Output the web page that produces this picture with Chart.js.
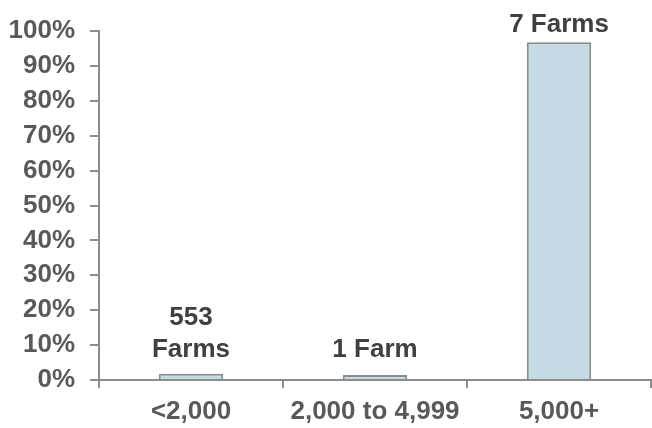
<!DOCTYPE html>
<html>
<head>
<meta charset="utf-8">
<script src="https://cdn.jsdelivr.net/npm/chart.js@4/dist/chart.umd.min.js"></script>
<style>
  html, body { margin: 0; padding: 0; background: #ffffff; }
  #wrap { width: 652px; height: 428px; position: relative; }
</style>
</head>
<body>
<div id="wrap"><canvas id="farms"></canvas></div>
<script>
// Farm size classes and share of total (percent)
const categories = ['<2,000', '2,000 to 4,999', '5,000+'];
const sharePct = [1.8, 1.4, 96.8];
const farmLabels = [['553', 'Farms'], ['1 Farm'], ['7 Farms']];
const yTicks = [0, 10, 20, 30, 40, 50, 60, 70, 80, 90, 100];

const FONT = '"Liberation Sans", Arial, sans-serif';
const AXIS_GREY = '#8c8c8c';

// Draws the farm-count text above each bar
const farmCountLabels = {
  id: 'farmCountLabels',
  afterDatasetsDraw(chart) {
    const { ctx } = chart;
    const meta = chart.getDatasetMeta(0);
    const base = chart.scales.y.getPixelForValue(0);
    ctx.save();
    ctx.font = 'bold 26px ' + FONT;
    ctx.fillStyle = '#404040';
    ctx.textAlign = 'center';
    ctx.textBaseline = 'alphabetic';
    meta.data.forEach((bar, i) => {
      const lines = farmLabels[i];
      const lastBaseline = Math.min(bar.y - 10.5, base - 23);
      const lh = 32;
      lines.forEach((txt, j) => {
        ctx.fillText(txt, bar.x, lastBaseline - (lines.length - 1 - j) * lh);
      });
    });
    ctx.restore();
  }
};

new Chart(document.getElementById('farms'), {
  type: 'bar',
  data: {
    labels: categories,
    datasets: [{
      data: sharePct,
      backgroundColor: '#c5dbe3',
      borderColor: '#8c8c8c',
      borderWidth: 2,
      borderSkipped: 'bottom',
      categoryPercentage: 1,
      barPercentage: 0.35
    }]
  },
  options: {
    responsive: true,
    maintainAspectRatio: false,
    animation: false,
    layout: { padding: { top: 31, right: 1, left: 0, bottom: 0 } },
    plugins: {
      legend: { display: false },
      tooltip: { enabled: false }
    },
    scales: {
      x: {
        offset: true,
        grid: {
          display: true,
          offset: true,
          drawOnChartArea: false,
          drawTicks: true,
          tickLength: 8,
          color: AXIS_GREY,
          lineWidth: 2
        },
        border: { display: true, color: AXIS_GREY, width: 2 },
        ticks: {
          color: '#595959',
          font: { family: FONT, size: 26, weight: 'bold' },
          padding: 8,
          maxRotation: 0,
          autoSkip: false
        },
        afterFit(scale) { scale.height = 48; }
      },
      y: {
        min: 0,
        max: 100,
        afterBuildTicks(scale) { scale.ticks = yTicks.map(v => ({ value: v })); },
        grid: {
          display: true,
          drawOnChartArea: false,
          drawTicks: true,
          tickLength: 9,
          color: AXIS_GREY,
          lineWidth: 2
        },
        border: { display: true, color: AXIS_GREY, width: 2 },
        ticks: {
          color: '#595959',
          font: { family: FONT, size: 26, weight: 'bold' },
          padding: 15,
          callback: v => v + '%'
        },
        afterFit(scale) { scale.width = 99; }
      }
    }
  },
  plugins: [farmCountLabels]
});
</script>
</body>
</html>
